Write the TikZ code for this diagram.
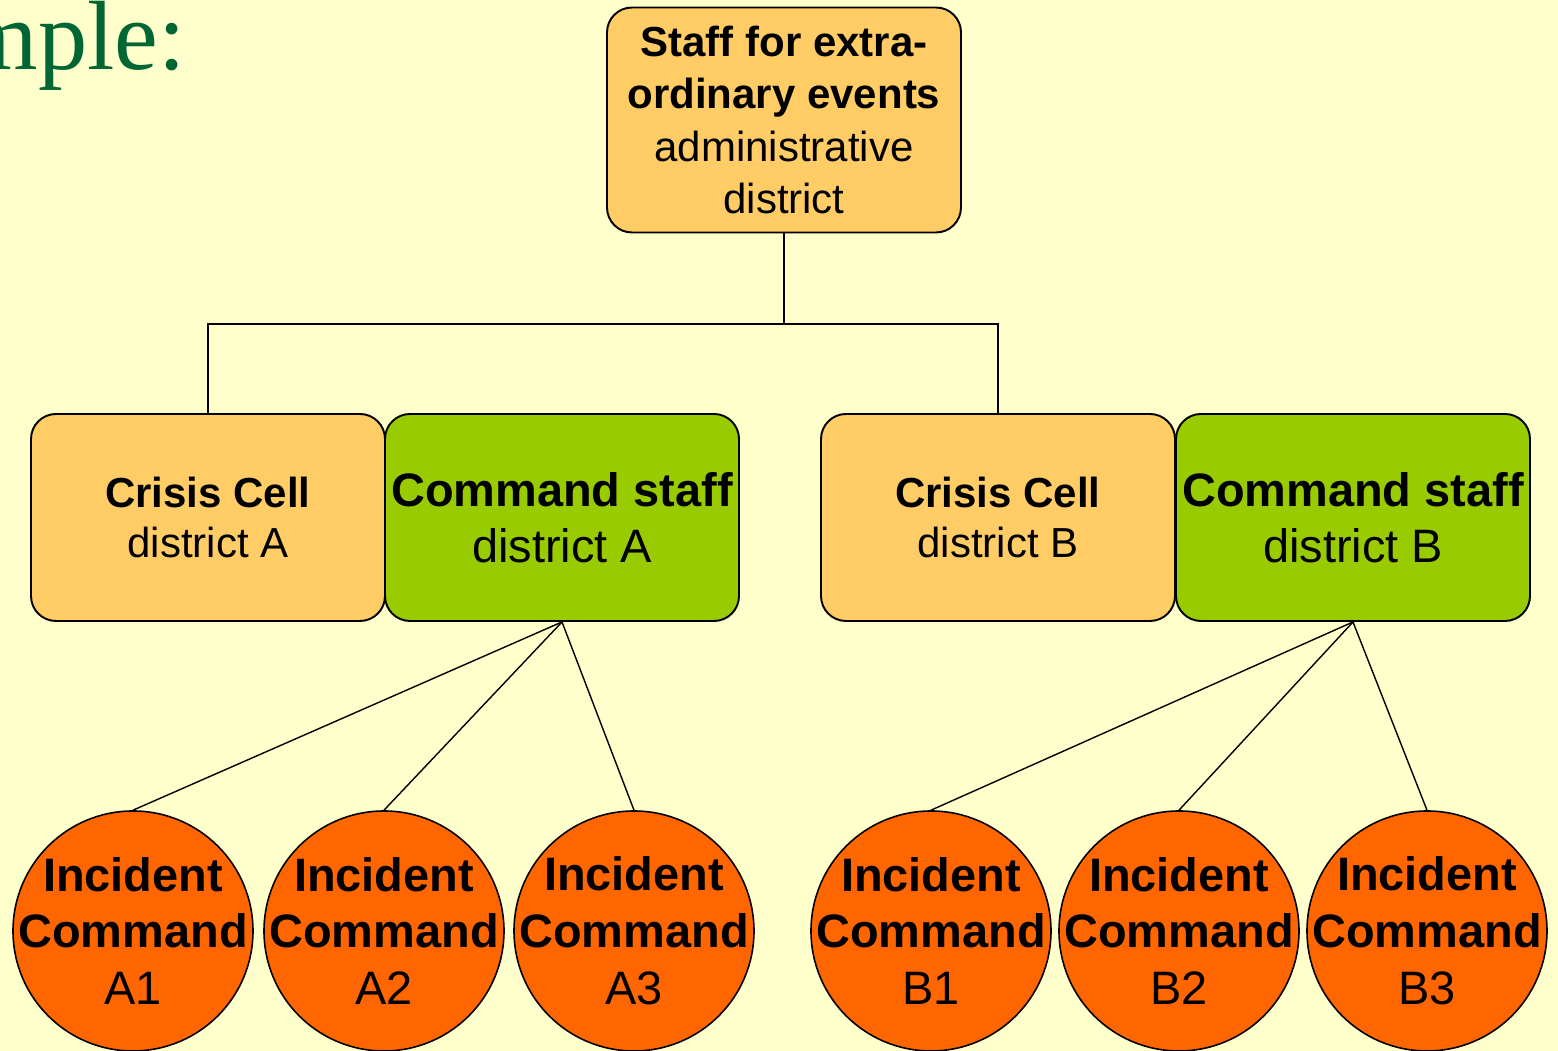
\documentclass[tikz,border=0pt]{standalone}
\usepackage{fontspec}
\setmainfont{Liberation Sans}
\newfontfamily\headfont{Liberation Serif}
\definecolor{slidebg}{HTML}{FFFFCC}
\definecolor{staffcol}{HTML}{FFCC66}
\definecolor{cmdcol}{HTML}{99CC00}
\definecolor{incidentcol}{HTML}{FF6600}
\definecolor{headcol}{HTML}{006633}
\begin{document}
\begin{tikzpicture}[
    staffbox/.style={draw, fill=staffcol, rounded corners=0.5cm, line width=1.1pt,
        minimum width=7.08cm, align=center, inner sep=0pt},
    cmdbox/.style={staffbox, fill=cmdcol},
    incident/.style={draw, circle, fill=incidentcol, line width=0.9pt,
        minimum size=4.8cm, inner sep=-0.7cm, align=center,
        font=\fontsize{26.7}{32.4}\selectfont},
    link/.style={line width=0.8pt}
  ]
        % Slide background and its size
        \fill[slidebg] (0,0) rectangle (31.16,21.02);
        \useasboundingbox (0,0) rectangle (31.16,21.02);

        % Heading cut off at the left edge
        \node[headcol, anchor=base east, inner sep=0pt, font=\headfont\fontsize{56}{56}\selectfont]
            (heading) at (3.72,19.62) {mple:};

        % The staff on top
        \node[staffbox, minimum height=4.5cm, font=\fontsize{23.9}{29.6}\selectfont]
            (staff) at (15.68,18.62)
            {\textbf{Staff for extra-}\\\textbf{ordinary events}\\administrative\\district};

        % District A and district B
        \node[staffbox, minimum height=4.14cm, font=\fontsize{23.9}{28.5}\selectfont]
            (crisisA) at (4.16,10.67) {\textbf{Crisis Cell}\\district A};
        \node[cmdbox, minimum height=4.14cm, font=\fontsize{26.7}{31.9}\selectfont]
            (cmdA) at (11.24,10.67) {\textbf{Command staff}\\district A};
        \node[staffbox, minimum height=4.14cm, font=\fontsize{23.9}{28.5}\selectfont]
            (crisisB) at (19.96,10.67) {\textbf{Crisis Cell}\\district B};
        \node[cmdbox, minimum height=4.14cm, font=\fontsize{26.7}{31.9}\selectfont]
            (cmdB) at (27.06,10.67) {\textbf{Command staff}\\district B};

        % Incident commands
        \node[incident] (incA1) at (2.66,2.4) {\textbf{Incident}\\\textbf{Command}\\A1};
        \node[incident] (incA2) at (7.68,2.4) {\textbf{Incident}\\\textbf{Command}\\A2};
        \node[incident] (incA3) at (12.68,2.4) {\textbf{Incident}\\\textbf{Command}\\A3};
        \node[incident] (incB1) at (18.62,2.4) {\textbf{Incident}\\\textbf{Command}\\B1};
        \node[incident] (incB2) at (23.58,2.4) {\textbf{Incident}\\\textbf{Command}\\B2};
        \node[incident] (incB3) at (28.54,2.4) {\textbf{Incident}\\\textbf{Command}\\B3};

        % Fork below the staff
        \coordinate (fork) at (15.68,14.54);
        \draw[link] (staff.south) -- (fork) -| (crisisA.north);
        \draw[link] (fork) -| (crisisB.north);

        % Lines down to the incident commands
        \foreach \c in {1,2,3} {
            \draw[link] (cmdA.south) -- (incA\c.north);
            \draw[link] (cmdB.south) -- (incB\c.north);
        }

    \end{tikzpicture}
\end{document}
